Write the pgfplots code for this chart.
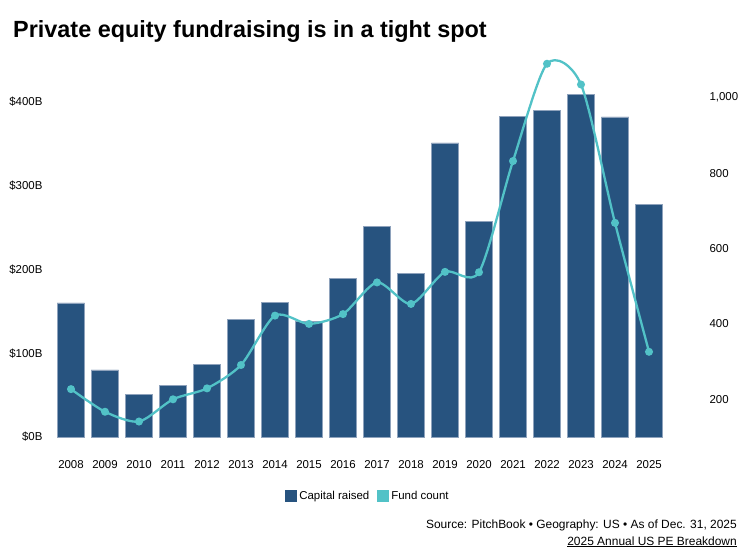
\documentclass[border=0pt]{standalone}
\usepackage{fontspec}
\setmainfont{Liberation Sans}
\usepackage{pgfplots}
\pgfplotsset{compat=1.18}

\definecolor{capblue}{HTML}{27537F}
\definecolor{capedge}{HTML}{8EA2BC}
\definecolor{fundteal}{HTML}{52C2C7}

\begin{document}
\begin{tikzpicture}
  % page frame, in bp relative to the plot area's lower left corner
  \path[use as bounding box] (-54bp,-118bp) rectangle (690bp,437bp);

  \begin{axis}[
      at={(0,0)}, anchor=south west,
      scale only axis, width=612bp, height=377bp,
      xmin=-0.5, xmax=17.5,
      ymin=0, ymax=450,
      axis x line*=bottom, axis y line*=left,
      axis line style={draw=none},
      major tick length=0pt,
      xtick={0,...,17},
      xticklabels={2008,2009,2010,2011,2012,2013,2014,2015,2016,2017,2018,2019,2020,2021,2022,2023,2024,2025},
      ytick={0,100,200,300,400},
      yticklabels={\$0B,\$100B,\$200B,\$300B,\$400B},
      tick label style={font=\fontsize{11.5}{13}\selectfont},
      xticklabel style={yshift=-20bp},
      yticklabel style={xshift=-8bp},
      ybar, bar width=27.5bp,
      legend style={at={(0.513,-0.156)}, anchor=center, draw=none, fill=none,
        font=\fontsize{11.5}{13}\selectfont,
        legend columns=2,
        /tikz/every even column/.append style={column sep=6bp}},
      legend image code/.code={\fill[#1,draw=none] (0bp,-6bp) rectangle (12bp,6bp);},
    ]
    \addplot[fill=capblue, draw=capedge, line width=0.6bp] coordinates {
      (0,160) (1,80) (2,51) (3,62) (4,87) (5,140) (6,161) (7,138) (8,189)
      (9,251) (10,195) (11,351) (12,257) (13,383) (14,390) (15,409)
      (16,382) (17,278)
    };
    \addlegendentry{Capital raised}
    \addlegendimage{fill=fundteal}
    \addlegendentry{Fund count}
  \end{axis}

  \begin{axis}[
      at={(0,0)}, anchor=south west,
      scale only axis, width=612bp, height=377bp,
      xmin=-0.5, xmax=17.5,
      ymin=100, ymax=1100,
      axis y line*=right,
      axis x line=none,
      axis line style={draw=none},
      major tick length=0pt,
      ytick={200,400,600,800,1000},
      yticklabels={200,400,600,800,{1,000}},
      yticklabel style={font=\fontsize{11.5}{13}\selectfont, anchor=west, xshift=40bp},
    ]
    \addplot[fundteal, line width=2.3bp, smooth, tension=0.45,
      mark=*, mark size=2.8bp, mark options={fill=fundteal, draw=none}] coordinates {
      (0,227) (1,167) (2,141) (3,200) (4,229) (5,291) (6,422) (7,400) (8,426)
      (9,510) (10,453) (11,538) (12,537) (13,832) (14,1090) (15,1035)
      (16,668) (17,326)
    };
  \end{axis}

  \node[anchor=base west, inner sep=0pt, font=\fontsize{23.5}{27}\selectfont\bfseries]
    at (-41bp,399bp) {Private equity fundraising is in a tight spot};
  \node[anchor=base east, inner sep=0pt, font=\fontsize{12}{14}\selectfont]
    at (683bp,-91bp) {Source: PitchBook • Geography: US • As of Dec. 31, 2025};
  \node[anchor=base east, inner sep=0pt, font=\fontsize{12}{14}\selectfont]
    at (683bp,-108bp) {\underline{2025 Annual US PE Breakdown}};
\end{tikzpicture}
\end{document}
